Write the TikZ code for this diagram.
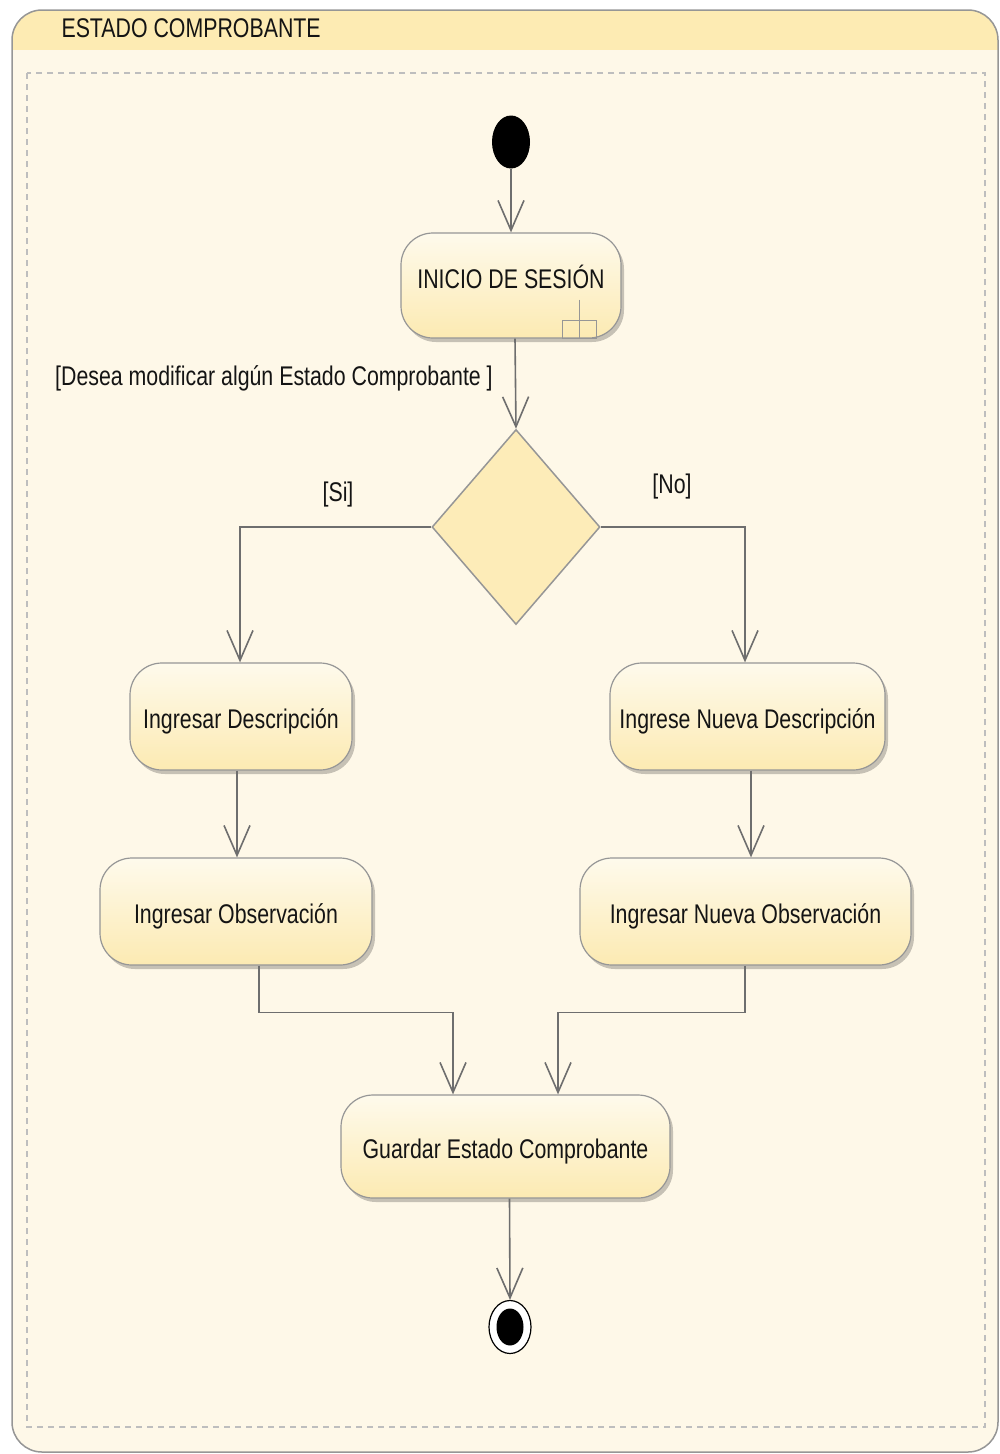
\documentclass[tikz,border=0pt]{standalone}
\usepackage{fontspec}
\setmainfont[FakeStretch=0.79]{Liberation Sans}
\usetikzlibrary{shapes.geometric,arrows.meta,shadows,calc}

\definecolor{bodyc}{RGB}{254,248,232}
\definecolor{headc}{RGB}{253,235,179}
\definecolor{nodetop}{RGB}{254,250,236}
\definecolor{nodebot}{RGB}{252,234,178}
\definecolor{dfill}{RGB}{253,236,184}
\definecolor{edgec}{RGB}{150,150,150}
\definecolor{linec}{RGB}{110,110,110}
\definecolor{dashc}{RGB}{190,190,190}
\definecolor{textc}{RGB}{20,20,20}

% move a label up or down inside its node without changing the node's size
\newcommand{\nudge}[2]{\raisebox{#1}[\height][\depth]{#2}}

\tikzset{
  txt/.style={font=\fontsize{27}{30}\selectfont, text=textc},
  action/.style={txt, draw=edgec, line width=1.2pt, rounded corners=32pt,
    top color=nodetop, bottom color=nodebot, inner sep=0pt,
    drop shadow={shadow xshift=3pt, shadow yshift=-4pt, fill=black, opacity=0.22}},
  decision/.style={diamond, draw=edgec, line width=1.5pt, fill=dfill, inner sep=0pt},
  flow/.style={draw=linec, line width=1.6pt,
    -{Straight Barb[length=30pt, width=26pt, line width=1.6pt]}},
  guard/.style={txt, inner sep=0pt},
}

\begin{document}
\begin{tikzpicture}[x=1pt, y=-1pt]
\useasboundingbox (0,0) rectangle (1000,1454);

% swimlane frame with its header band
\begin{scope}
  \clip[rounded corners=30pt] (12,10) rectangle (998,1452);
  \fill[bodyc] (12,10) rectangle (998,1452);
  \fill[headc] (12,10) rectangle (998,50);
\end{scope}
\draw[edgec, line width=1.5pt, rounded corners=30pt] (12,10) rectangle (998,1452);
\draw[dashc, line width=1.2pt, dash pattern=on 6pt off 5pt] (27,73) rectangle (985,1427);
\node[txt, anchor=west] (title) at (58,28) {ESTADO COMPROBANTE};

% initial and final states
\node[ellipse, fill=black, minimum width=38pt, minimum height=53pt, inner sep=0pt] (init) at (511,142) {};
\node[ellipse, draw=black, line width=1.2pt, fill=white, minimum width=42pt, minimum height=53pt, inner sep=0pt] (fin) at (510,1327) {};
\node[ellipse, fill=black, minimum width=27pt, minimum height=37pt, inner sep=0pt] (fincore) at (fin) {};

% actions
\node[action, minimum width=220pt, minimum height=105pt] (inicio) at (511,285.5) {\nudge{9pt}{INICIO DE SESIÓN}};
\node[decision, minimum width=168pt, minimum height=195pt] (dec) at (516,527) {};
\node[action, minimum width=222pt, minimum height=107pt] (desc) at (241,716.5) {\nudge{-5pt}{Ingresar Descripción}};
\node[action, minimum width=275pt, minimum height=107pt] (ndesc) at (747.5,716.5) {\nudge{-5pt}{Ingrese Nueva Descripción}};
\node[action, minimum width=272pt, minimum height=107pt] (obs) at (236,911.5) {\nudge{-5pt}{Ingresar Observación}};
\node[action, minimum width=331pt, minimum height=107pt] (nobs) at (745.5,911.5) {\nudge{-5pt}{Ingresar Nueva Observación}};
\node[action, minimum width=329pt, minimum height=103pt] (guardar) at (505.5,1146.5) {\nudge{-5pt}{Guardar Estado Comprobante}};

% call-behaviour rake inside the login action
\draw[edgec, line width=1.2pt]
  ($(inicio.south east)+(-42,-39)$) -- ($(inicio.south east)+(-42,0)$)
  ($(inicio.south east)+(-59,0)$) rectangle ($(inicio.south east)+(-25,-18)$);

% control flows
\draw[flow] (init) -- (inicio);
\draw[flow] ([xshift=4pt]inicio.south) -- (dec.north);
\draw[flow] (dec.west) -| ([xshift=-1pt]desc.north);
\draw[flow] (dec.east) -| ([xshift=-2.5pt]ndesc.north);
\draw[flow] ([xshift=-4pt]desc.south) -- ([xshift=-4pt]desc.south |- obs.north);
\draw[flow] ([xshift=3.5pt]ndesc.south) -- ([xshift=3.5pt]ndesc.south |- nobs.north);
\draw[flow] ([xshift=23pt]obs.south) -- ++(0,47) -| ([xshift=-52.5pt]guardar.north);
\draw[flow] ([xshift=-0.5pt]nobs.south) -- ++(0,47) -| ([xshift=52.5pt]guardar.north);
\draw[flow] ([xshift=4pt]guardar.south) -- (fin.north);

% guards
\node[guard] (gdesea) at (274,378) {[Desea modificar algún Estado Comprobante ]};
\node[guard] (gsi) at (338,495) {[Si]};
\node[guard] (gno) at (672,487) {[No]};
\end{tikzpicture}
\end{document}
